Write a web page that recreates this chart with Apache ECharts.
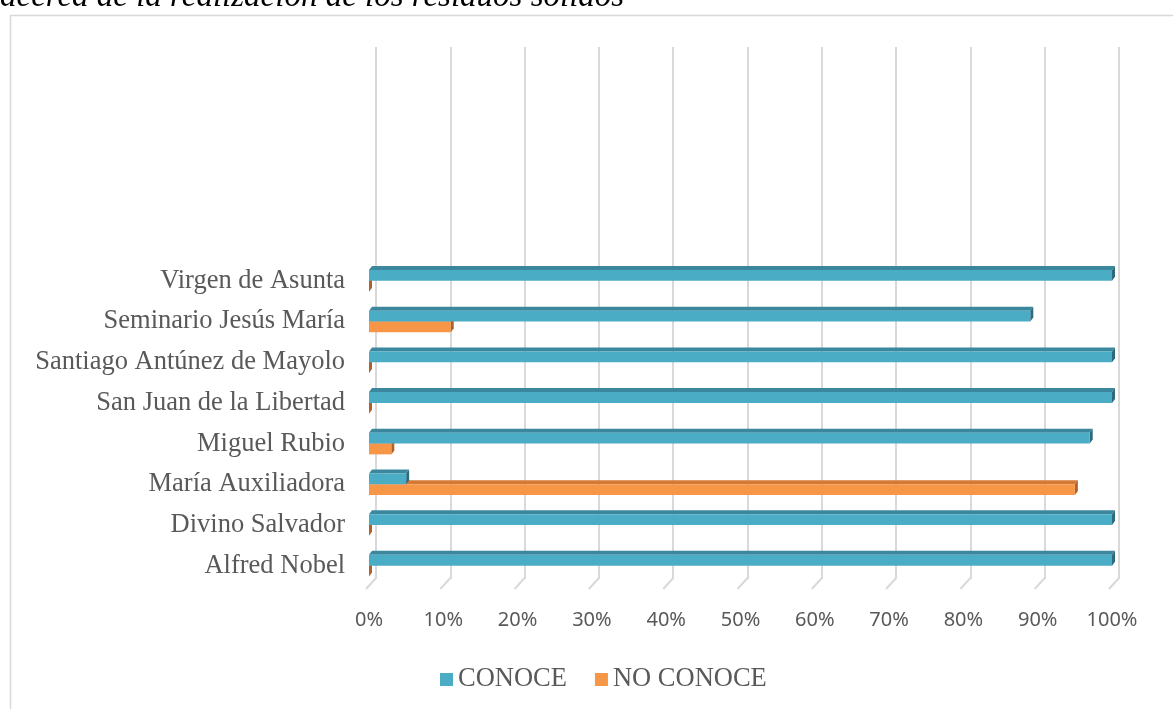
<!DOCTYPE html>
<html>
<head>
<meta charset="utf-8">
<script src="https://cdn.jsdelivr.net/npm/echarts@6/dist/echarts.min.js"></script>
<style>
html,body{margin:0;padding:0;background:#fff;}
#chart{width:1173px;height:709px;}
</style>
</head>
<body>
<div id="chart"></div>
<script>
const titleText = 'acerca de la realización de los residuos sólidos';
const categories = ['Alfred Nobel','Divino Salvador','María Auxiliadora','Miguel Rubio','San Juan de la Libertad','Santiago Antúnez de Mayolo','Seminario Jesús María','Virgen de Asunta'];
const seriesNames = ['CONOCE','NO CONOCE'];
const conoce = [100,100,5,97,100,100,89,100];
const noConoce = [0,0,95,3,0,0,11,0];
const tickValues = [0,10,20,30,40,50,60,70,80,90,100];

const chart = echarts.init(document.getElementById('chart'), null, {renderer:'canvas'});

function bar3d(front, top, side, upper) {
  return function (params, api) {
    const i = api.value(0);
    const v = api.value(1);
    const p0 = api.coord([0, i]);
    const p1 = api.coord([v, i]);
    const band = api.size([0, 1])[1];
    const h = band * 0.265;
    const yT = upper ? p0[1] - h : p0[1];
    const yB = yT + h;
    const x0 = p0[0], x1 = p1[0];
    const dx = 3, dy = 4;
    return {
      type: 'group',
      children: [
        {type:'polygon', shape:{points:[[x0,yT],[x0+dx,yT-dy],[x1+dx,yT-dy],[x1,yT]]}, style:{fill:top}},
        {type:'polygon', shape:{points:[[x1,yT],[x1+dx,yT-dy],[x1+dx,yB-dy],[x1,yB]]}, style:{fill:side}},
        {type:'rect', shape:{x:x0, y:yT, width:Math.max(x1-x0,0), height:h}, style:{fill:front}}
      ]
    };
  };
}

const option = {
  backgroundColor:'#ffffff',
  animation:false,
  graphic:[
    {type:'rect', left:8, top:13, shape:{x:0,y:0,width:1200,height:800}, style:{fill:'none', stroke:'#d9d9d9', lineWidth:1.5}, silent:true},
    {type:'text', x:0, y:14, style:{text:titleText, font:'italic 33px "Liberation Serif"', fill:'#000', verticalAlign:'bottom', align:'left'}}
  ],
  legend:{
    data:[{name:seriesNames[0], icon:'rect'},{name:seriesNames[1], icon:'rect'}],
    left:435, top:661,
    itemWidth:13, itemHeight:13, itemGap:28,
    textStyle:{fontFamily:'Liberation Serif', fontSize:26.5, color:'#595959'}
  },
  grid:[
    {left:376, right:54, top:47, bottom:130, outerBoundsMode:'none'},
    {left:369, right:61, top:260.5, bottom:123, outerBoundsMode:'none'}
  ],
  xAxis:[
    {gridIndex:0, type:'value', min:0, max:100, interval:10,
     axisLine:{show:false}, axisTick:{show:false}, axisLabel:{show:false},
     splitLine:{show:true, lineStyle:{color:'#d9d9d9', width:2}}},
    {gridIndex:1, type:'value', min:0, max:100, interval:10,
     axisLine:{show:false}, axisTick:{show:false}, splitLine:{show:false},
     axisLabel:{show:true, margin:24, formatter:'{value}%', fontFamily:'Noto Sans', fontSize:20, color:'#595959'}}
  ],
  yAxis:[
    {gridIndex:0, type:'value', min:0, max:1, show:false},
    {gridIndex:1, type:'category', data:categories,
     axisLine:{show:false}, axisTick:{show:false}, splitLine:{show:false},
     axisLabel:{margin:24, fontFamily:'Liberation Serif', fontSize:26.5, color:'#595959'}}
  ],
  series:[
    {type:'custom', name:'floor', xAxisIndex:0, yAxisIndex:0, silent:true, clip:false, z:1,
     data:tickValues.map(v=>[v]),
     encode:{x:0},
     renderItem:function(params, api){
       const p = api.coord([api.value(0), 0]);
       return {type:'line', shape:{x1:p[0], y1:p[1]-1, x2:p[0]-10, y2:p[1]+10}, style:{stroke:'#d9d9d9', lineWidth:2}};
     }},
    {type:'custom', name:seriesNames[1], xAxisIndex:1, yAxisIndex:1, clip:false, z:3,
     itemStyle:{color:'#F79646'},
     data:noConoce.map((v,i)=>[i,v]),
     encode:{x:1, y:0},
     renderItem:bar3d('#F79646','#d47a35','#b0622a',false)},
    {type:'custom', name:seriesNames[0], xAxisIndex:1, yAxisIndex:1, clip:false, z:4,
     itemStyle:{color:'#4BACC6'},
     data:conoce.map((v,i)=>[i,v]),
     encode:{x:1, y:0},
     renderItem:bar3d('#4BACC6','#3b879d','#2c6a7c',true)}
  ]
};
chart.setOption(option);
</script>
</body>
</html>
